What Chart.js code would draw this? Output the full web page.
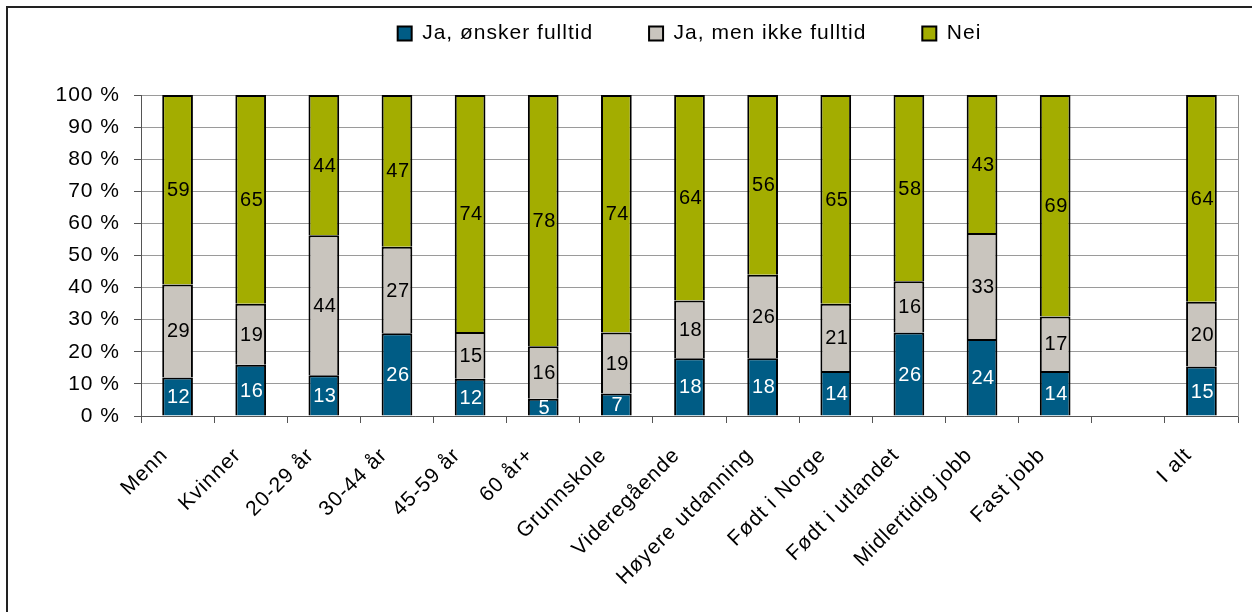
<!DOCTYPE html>
<html>
<head>
<meta charset="utf-8">
<script src="https://cdn.jsdelivr.net/npm/chart.js@4/dist/chart.umd.min.js"></script>
<style>
  html, body { margin: 0; padding: 0; background: #fff; overflow: hidden; }
  #wrap { position: relative; width: 1252px; height: 612px; }
  #frame { position: absolute; left: 6px; top: 6px; width: 1300px; height: 700px;
           border-left: 2px solid #222; border-top: 2px solid #222; pointer-events: none; }
  canvas { position: absolute; left: 0; top: 0; }
</style>
</head>
<body>
<div id="wrap">
  <canvas id="c" width="1252" height="612"></canvas>
  <div id="frame"></div>
</div>
<script>
const categories = ['Menn','Kvinner','20-29 år','30-44 år','45-59 år','60 år+','Grunnskole','Videregående','Høyere utdanning','Født i Norge','Født i utlandet','Midlertidig jobb','Fast jobb','','I alt'];
const seriesNames = ['Ja, ønsker fulltid','Ja, men ikke fulltid','Nei'];
const jaFulltid     = [12, 16, 12.7, 25.8, 11.6,  5.4,  7, 18, 18, 14, 26, 24, 14, null, 15.4];
const jaIkkeFulltid = [29, 19, 43.6, 26.9, 14.6, 16.3, 19, 18, 26, 21, 16, 33, 17, null, 20.2];
const nei           = [59, 65, 43.7, 47.3, 73.8, 78.3, 74, 64, 56, 65, 58, 43, 69, null, 64.4];
const yTickValues = [0,10,20,30,40,50,60,70,80,90,100];
const seriesColors = ['#005C85', '#C9C5BE', '#A3AD00'];
const labelColors = ['#FFFFFF', '#000000', '#000000'];

const FONT = "'Liberation Sans', Arial, sans-serif";
const SPACING = '1px';

const spacingPlugin = {
  id: 'spacing',
  beforeUpdate(c) { c.ctx.letterSpacing = SPACING; },
  beforeLayout(c) { c.ctx.letterSpacing = SPACING; },
  beforeDraw(c) { c.ctx.letterSpacing = SPACING; }
};

const legendShift = {
  id: 'legendShift',
  afterLayout(c) {
    const l = c.legend;
    if (l) { l.top -= 41; l.bottom -= 41; }
  }
};

const valueLabels = {
  id: 'valueLabels',
  afterDatasetsDraw(c) {
    const ctx = c.ctx;
    ctx.save();
    ctx.letterSpacing = '0.5px';
    ctx.font = '20px ' + FONT;
    ctx.textAlign = 'center';
    ctx.textBaseline = 'middle';
    c.data.datasets.forEach((ds, i) => {
      const meta = c.getDatasetMeta(i);
      meta.data.forEach((el, j) => {
        const v = ds.data[j];
        if (v === null || v === undefined) return;
        const p = el.getProps(['x', 'y', 'base'], true);
        ctx.fillStyle = labelColors[i];
        ctx.fillText(String(Math.round(v)), p.x + 1, (p.y + p.base) / 2 + 1);
      });
    });
    ctx.restore();
  }
};

const seriesData = [jaFulltid, jaIkkeFulltid, nei];

new Chart(document.getElementById('c'), {
  type: 'bar',
  data: {
    labels: categories,
    datasets: seriesNames.map((name, i) => ({
      label: name,
      data: seriesData[i],
      backgroundColor: seriesColors[i],
      borderColor: '#000000',
      borderWidth: 2,
      borderSkipped: 'start',
      categoryPercentage: 1,
      barPercentage: 0.42
    }))
  },
  options: {
    responsive: false,
    animation: false,
    devicePixelRatio: 1,
    layout: { padding: { top: 8, left: 0, right: 14, bottom: 0 } },
    plugins: {
      tooltip: { enabled: false },
      legend: {
        position: 'top',
        fullSize: false,
        maxHeight: 94,
        labels: {
          boxWidth: 14,
          boxHeight: 14,
          padding: 56,
          color: '#000',
          font: { family: FONT, size: 21 }
        }
      }
    },
    scales: {
      x: {
        stacked: true,
        afterFit(s) { s.height = 196; },
        border: { color: '#555', width: 1 },
        grid: { display: true, drawOnChartArea: false, drawTicks: true, tickLength: 7, offset: true, color: '#555' },
        ticks: {
          autoSkip: false,
          minRotation: 45,
          maxRotation: 45,
          padding: 20,
          labelOffset: -13,
          color: '#000',
          font: { family: FONT, size: 21 }
        }
      },
      y: {
        stacked: true,
        min: 0,
        max: 100,
        afterFit(s) { s.width = 141; },
        afterBuildTicks(s) { s.ticks = yTickValues.map(v => ({ value: v })); },
        border: { color: '#555', width: 1 },
        grid: { color: '#9a9a9a', tickColor: '#555', tickLength: 7, lineWidth: 1 },
        ticks: {
          padding: 14,
          color: '#000',
          font: { family: FONT, size: 21 },
          callback: v => v + ' %'
        }
      },
      y2: {
        position: 'right',
        min: 0,
        max: 100,
        afterFit(s) { s.width = 0; },
        border: { color: '#8c8c8c', width: 1 },
        grid: { drawOnChartArea: false, drawTicks: false },
        ticks: { display: false }
      }
    }
  },
  plugins: [spacingPlugin, legendShift, valueLabels]
});
</script>
</body>
</html>
